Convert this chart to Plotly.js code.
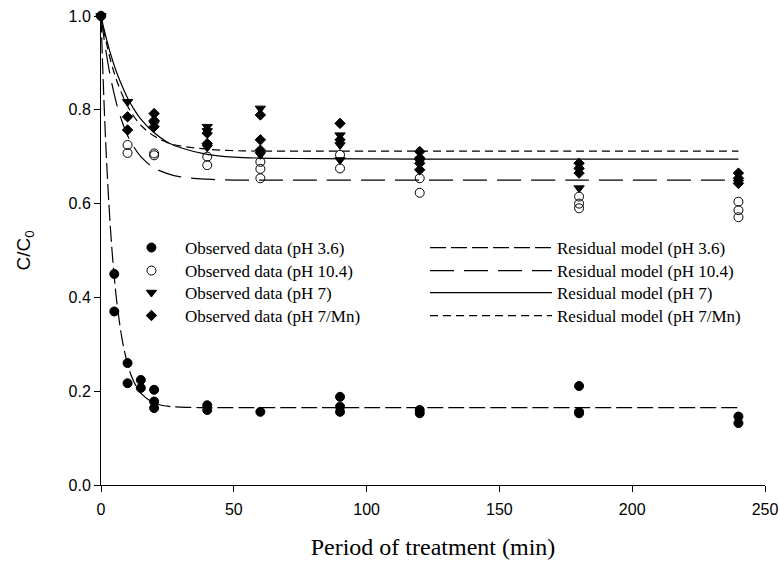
<!DOCTYPE html>
<html>
<head>
<meta charset="utf-8">
<script src="https://cdn.plot.ly/plotly-3.0.1.min.js"></script>
<style>html,body{margin:0;padding:0;background:#fff;}#chart{width:780px;height:568px;}</style>
</head>
<body>
<div id="chart"></div>
<script>
// Observed data
const obs36_t = [0, 5, 5, 10, 10, 15, 15, 20, 20, 20, 40, 40, 60, 90, 90, 90, 120, 120, 180, 180, 180, 240, 240];
const obs36_c = [1.0, 0.45, 0.37, 0.26, 0.217, 0.224, 0.207, 0.203, 0.178, 0.164, 0.17, 0.16, 0.156, 0.188, 0.167, 0.156, 0.16, 0.153, 0.211, 0.156, 0.153, 0.146, 0.132];

const obs104_t = [0, 10, 10, 20, 20, 40, 40, 60, 60, 60, 90, 90, 120, 120, 180, 180, 180, 240, 240, 240];
const obs104_c = [1.0, 0.725, 0.708, 0.707, 0.703, 0.70, 0.682, 0.689, 0.674, 0.654, 0.704, 0.675, 0.654, 0.623, 0.615, 0.600, 0.590, 0.604, 0.586, 0.571];

const obs7_t = [0, 10, 20, 40, 40, 40, 60, 60, 90, 90, 90, 120, 180, 240];
const obs7_c = [1.0, 0.817, 0.77, 0.764, 0.755, 0.72, 0.803, 0.704, 0.746, 0.725, 0.693, 0.69, 0.633, 0.645];

const obs7Mn_t = [0, 10, 10, 20, 20, 20, 40, 40, 60, 60, 60, 90, 90, 120, 120, 120, 120, 180, 180, 180, 240, 240, 240];
const obs7Mn_c = [1.0, 0.785, 0.757, 0.792, 0.777, 0.764, 0.75, 0.728, 0.789, 0.736, 0.714, 0.771, 0.736, 0.711, 0.697, 0.686, 0.672, 0.686, 0.675, 0.665, 0.665, 0.654, 0.643];

// Residual model curves
const model_t = [0, 1, 2, 3, 4, 5, 6, 8, 10, 12, 15, 20, 25, 30, 40, 50, 60, 80, 120, 180, 240];
const model36_c  = [1.0, 0.835, 0.703, 0.597, 0.511, 0.443, 0.388, 0.309, 0.258, 0.225, 0.196, 0.175, 0.168, 0.166, 0.165, 0.165, 0.165, 0.165, 0.165, 0.165, 0.165];
const model104_c = [1.0, 0.957, 0.920, 0.887, 0.858, 0.833, 0.810, 0.774, 0.745, 0.724, 0.700, 0.676, 0.664, 0.657, 0.652, 0.650, 0.650, 0.650, 0.650, 0.650, 0.650];
const model7_c   = [1.0, 0.975, 0.952, 0.931, 0.912, 0.894, 0.878, 0.850, 0.825, 0.805, 0.780, 0.751, 0.731, 0.719, 0.705, 0.699, 0.697, 0.696, 0.695, 0.695, 0.695];
const model7Mn_c = [1.0, 0.970, 0.943, 0.919, 0.897, 0.878, 0.861, 0.832, 0.808, 0.789, 0.767, 0.744, 0.730, 0.723, 0.716, 0.713, 0.712, 0.712, 0.712, 0.712, 0.712];

const obsNames = ['Observed data (pH 3.6)', 'Observed data (pH 10.4)', 'Observed data (pH 7)', 'Observed data (pH 7/Mn)'];
const modelNames = ['Residual model (pH 3.6)', 'Residual model (pH 10.4)', 'Residual model (pH 7)', 'Residual model (pH 7/Mn)'];

const mk = (sym, size) => ({symbol: sym, size: size, color: '#000', line: {color: '#000', width: 1}});

const traces = [
  {x: obs36_t, y: obs36_c, name: obsNames[0], mode: 'markers', marker: mk('circle', 9), legend: 'legend', cliponaxis: false},
  {x: obs104_t, y: obs104_c, name: obsNames[1], mode: 'markers', marker: {symbol: 'circle-open', size: 9, color: '#000', line: {color: '#000', width: 1}}, legend: 'legend2', cliponaxis: false},
  {x: obs7_t, y: obs7_c, name: obsNames[2], mode: 'markers', marker: mk('triangle-down', 9), legend: 'legend3', cliponaxis: false},
  {x: obs7Mn_t, y: obs7Mn_c, name: obsNames[3], mode: 'markers', marker: mk('diamond', 8), legend: 'legend4', cliponaxis: false},
  {x: model_t, y: model36_c, name: modelNames[0], mode: 'lines', line: {color: '#000', width: 1.2, dash: '16px,5px', shape: 'spline'}, legend: 'legend5', cliponaxis: false},
  {x: model_t, y: model104_c, name: modelNames[1], mode: 'lines', line: {color: '#000', width: 1.2, dash: '24px,10px', shape: 'spline'}, legend: 'legend6', cliponaxis: false},
  {x: model_t, y: model7_c, name: modelNames[2], mode: 'lines', line: {color: '#000', width: 1.2, shape: 'spline'}, legend: 'legend7', cliponaxis: false},
  {x: model_t, y: model7Mn_c, name: modelNames[3], mode: 'lines', line: {color: '#000', width: 1.2, dash: '8px,5px', shape: 'spline'}, legend: 'legend8', cliponaxis: false}
];

const legendFont = {family: 'Liberation Serif, Times New Roman, serif', size: 17, color: '#000'};
const rowY = [0.5437, 0.4947, 0.4478, 0.3987];
const mkLegend = (x, y, iw) => ({
  x: x, y: y, xanchor: 'left', yanchor: 'top',
  bgcolor: 'rgba(0,0,0,0)', borderwidth: 0,
  font: legendFont, itemwidth: iw
});

const layout = {
  width: 780, height: 568,
  margin: {l: 101, r: 15, t: 16, b: 83},
  paper_bgcolor: '#fff', plot_bgcolor: '#fff',
  showlegend: true,
  xaxis: {
    range: [0, 250], dtick: 50, tick0: 0,
    showline: true, linecolor: '#000', linewidth: 1,
    ticks: 'outside', ticklen: 6, tickcolor: '#000', tickwidth: 1,
    showgrid: false, zeroline: false,
    ticklabelstandoff: 4,
    tickfont: {family: 'Liberation Sans, Arial, sans-serif', size: 16, color: '#000'},
    title: {text: 'Period of treatment (min)', font: {family: 'Liberation Serif, Times New Roman, serif', size: 24, color: '#000'}, standoff: 20}
  },
  yaxis: {
    range: [0, 1.0], dtick: 0.2, tick0: 0, tickformat: '.1f',
    showline: true, linecolor: '#000', linewidth: 1,
    ticks: 'outside', ticklen: 6, tickcolor: '#000', tickwidth: 1,
    showgrid: false, zeroline: false,
    tickfont: {family: 'Liberation Sans, Arial, sans-serif', size: 16, color: '#000'},
    title: {text: 'C/C<sub>0</sub>', font: {family: 'Liberation Sans, Arial, sans-serif', size: 19, color: '#000'}, standoff: 32}
  },
  legend:  mkLegend(0.0255, rowY[0], 57),
  legend2: mkLegend(0.0255, rowY[1], 57),
  legend3: mkLegend(0.0255, rowY[2], 57),
  legend4: mkLegend(0.0255, rowY[3], 57),
  legend5: mkLegend(0.488, rowY[0], 122),
  legend6: mkLegend(0.488, rowY[1], 122),
  legend7: mkLegend(0.488, rowY[2], 122),
  legend8: mkLegend(0.488, rowY[3], 122)
};

Plotly.newPlot('chart', traces, layout, {displayModeBar: false, staticPlot: true});
</script>
</body>
</html>
